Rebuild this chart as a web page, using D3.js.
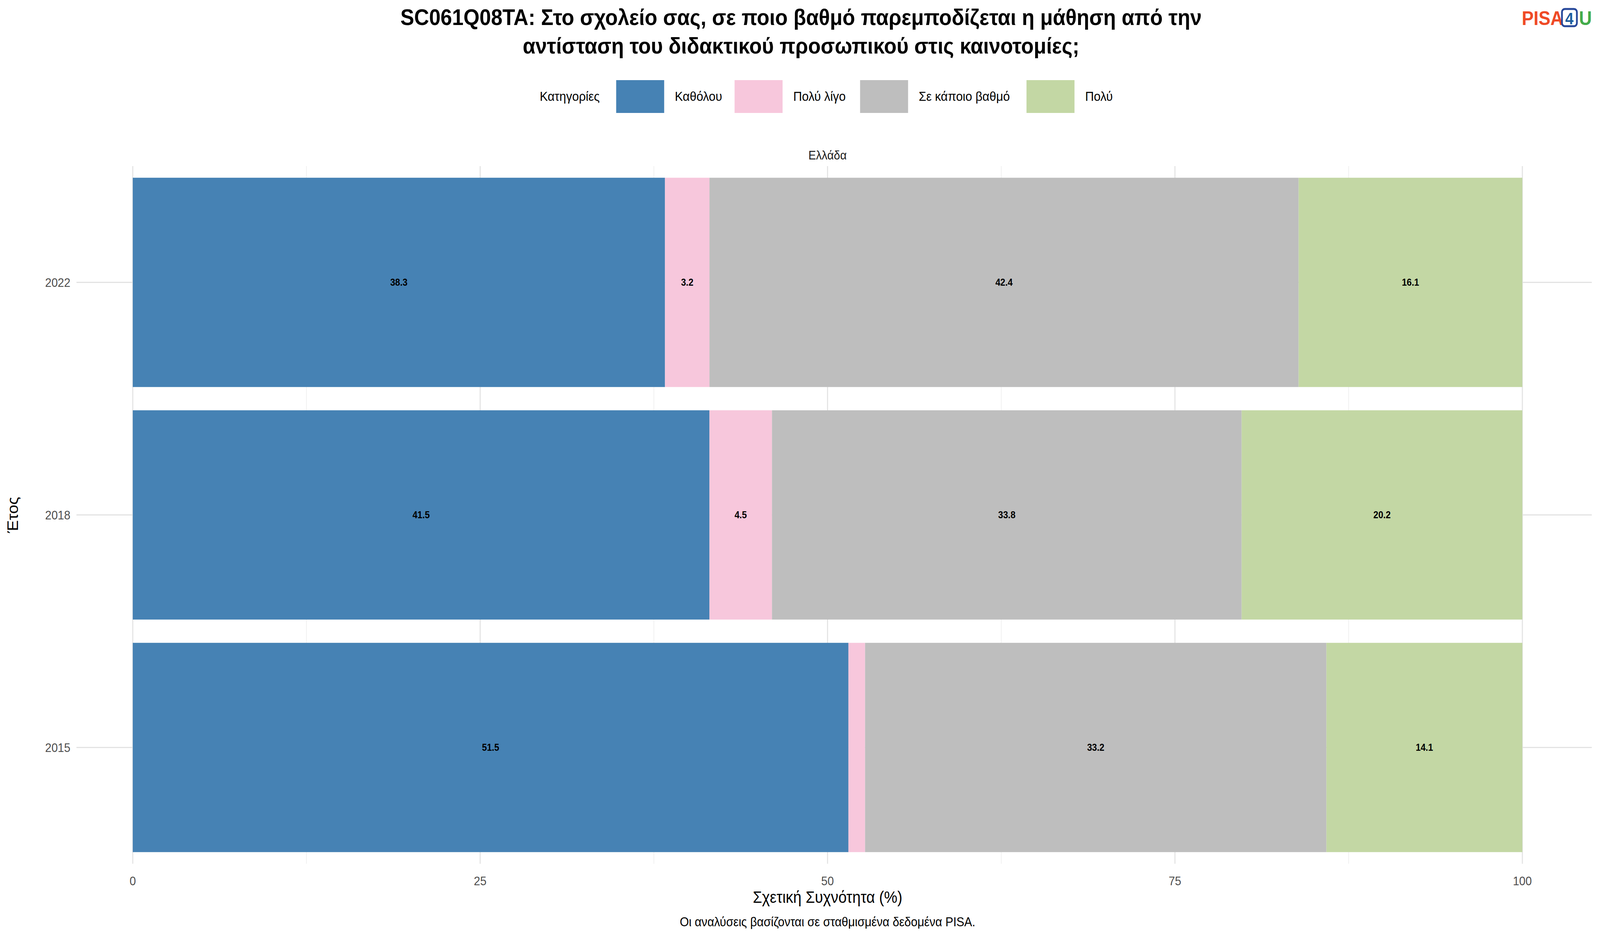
<!DOCTYPE html>
<html><head><meta charset="utf-8">
<script src="https://cdn.jsdelivr.net/npm/d3@7"></script>
<style>html,body{margin:0;padding:0;overflow:hidden;background:#fff}svg{display:block}text{font-family:"Liberation Sans",Arial,sans-serif}</style>
</head><body><svg id="chart"></svg>
<script>
const years = ["2015", "2018", "2022"];
const categories = ["Καθόλου", "Πολύ λίγο", "Σε κάποιο βαθμό", "Πολύ"];
const colors = ["#4682b4", "#f7c7dc", "#bebebe", "#c3d7a4"];
const values = {
  "2015": [51.5, 1.2, 33.2, 14.1],
  "2018": [41.5, 4.5, 33.8, 20.2],
  "2022": [38.3, 3.2, 42.4, 16.1]
};
const xTicks = [0, 25, 50, 75, 100];

const W = 4500, H = 2400;
const svg = d3.select("#chart").attr("viewBox", `0 0 ${W} ${H}`)
  .attr("width", "100vw").attr("height", "100vh").attr("preserveAspectRatio", "none");

const x = d3.scaleLinear().domain([-5, 105]).range([178, 4477]);
const y = d3.scaleBand().domain(["2022", "2018", "2015"]).range([425, 2210]).paddingInner(0.1).paddingOuter(0.05);

// grid
const grid = svg.append("g");
d3.range(12.5, 100, 25).forEach(v => {
  grid.append("line").attr("x1", x(v)).attr("x2", x(v)).attr("y1", 425).attr("y2", 2210)
    .attr("stroke", "#ebebeb").attr("stroke-width", 1.5);
});
xTicks.forEach(v => {
  grid.append("line").attr("x1", x(v)).attr("x2", x(v)).attr("y1", 425).attr("y2", 2210)
    .attr("stroke", "#e3e3e3").attr("stroke-width", 3);
});
years.forEach(yr => {
  grid.append("line").attr("x1", 215).attr("x2", 4477)
    .attr("y1", y(yr) + y.bandwidth() / 2).attr("y2", y(yr) + y.bandwidth() / 2)
    .attr("stroke", "#e3e3e3").attr("stroke-width", 3);
});

// bars
years.forEach(yr => {
  let cum = 0;
  values[yr].forEach((v, i) => {
    const x0 = cum; cum += v;
    svg.append("rect").attr("x", x(x0)).attr("width", x(cum) - x(x0))
      .attr("y", y(yr)).attr("height", y.bandwidth()).attr("fill", colors[i]);
    if (v >= 2) {
      svg.append("text").attr("x", x(x0 + v / 2)).attr("y", y(yr) + y.bandwidth() / 2)
        .attr("text-anchor", "middle").attr("dominant-baseline", "central")
        .attr("font-size", 25).attr("font-weight", "bold").text(v.toFixed(1));
    }
  });
});

// axes text
xTicks.forEach(v => {
  svg.append("text").attr("x", x(v)).attr("y", 2265).attr("text-anchor", "middle")
    .attr("font-size", 32).attr("fill", "#4d4d4d").text(v);
});
years.forEach(yr => {
  svg.append("text").attr("x", 198).attr("y", y(yr) + y.bandwidth() / 2).attr("text-anchor", "end")
    .attr("dominant-baseline", "central").attr("font-size", 32).attr("fill", "#4d4d4d").text(yr);
});
svg.append("text").attr("x", x(50)).attr("y", 2310).attr("text-anchor", "middle")
  .attr("font-size", 42).text("Σχετική Συχνότητα (%)");
svg.append("text").attr("transform", `translate(50,${(425 + 2210) / 2}) rotate(-90)`)
  .attr("text-anchor", "middle").attr("font-size", 42).text("Έτος");
svg.append("text").attr("x", x(50)).attr("y", 2370).attr("text-anchor", "middle")
  .attr("font-size", 33).text("Οι αναλύσεις βασίζονται σε σταθμισμένα δεδομένα PISA.");
svg.append("text").attr("x", x(50)).attr("y", 408).attr("text-anchor", "middle")
  .attr("font-size", 32).attr("fill", "#1a1a1a").text("Ελλάδα");

// title
const title = ["SC061Q08TA: Στο σχολείο σας, σε ποιο βαθμό παρεμποδίζεται η μάθηση από την",
  "αντίσταση του διδακτικού προσωπικού στις καινοτομίες;"];
title.forEach((t, i) => {
  svg.append("text").attr("x", 2253).attr("y", 64 + i * 73).attr("text-anchor", "middle")
    .attr("font-size", 58).attr("font-weight", "bold").text(t);
});

// legend
const leg = svg.append("g");
leg.append("text").attr("x", 1518).attr("y", 258).attr("font-size", 34).text("Κατηγορίες");
const swX = [1733, 2066, 2419, 2887];
categories.forEach((c, i) => {
  leg.append("rect").attr("x", swX[i]).attr("y", 205).attr("width", 135).attr("height", 84).attr("fill", colors[i]);
  leg.append("text").attr("x", swX[i] + 165).attr("y", 258).attr("font-size", 34).text(c);
});

// logo
const logo = svg.append("g").attr("font-weight", "bold").attr("font-size", 50);
logo.append("text").attr("x", 4280).attr("y", 64).attr("fill", "#ef4a26").text("PISA");
logo.append("rect").attr("x", 4393).attr("y", 23).attr("width", 42).attr("height", 44).attr("rx", 8)
  .attr("fill", "none").attr("stroke", "#27489a").attr("stroke-width", 5);
logo.append("text").attr("x", 4414).attr("y", 62).attr("text-anchor", "middle").attr("font-size", 42).attr("fill", "#1d5c9e").text("4");
logo.append("text").attr("x", 4441).attr("y", 64).attr("fill", "#43ab4a").text("U");
</script></body></html>
